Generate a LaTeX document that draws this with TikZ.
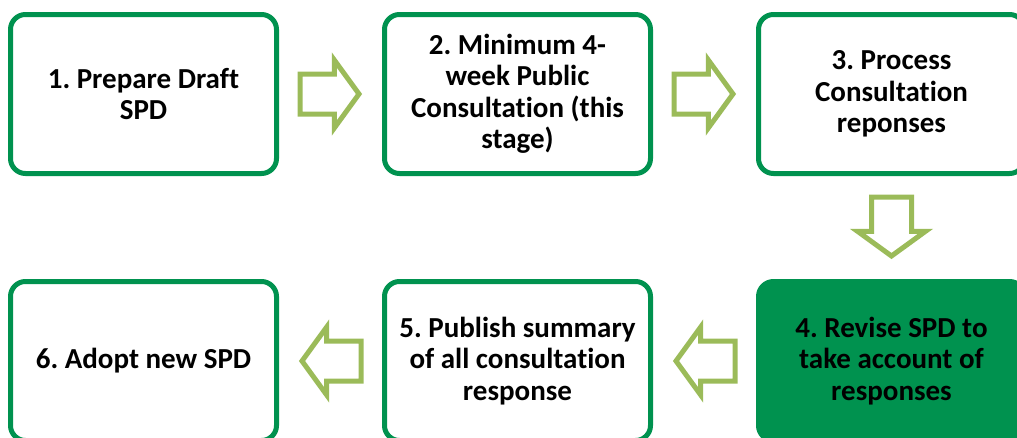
\documentclass[tikz,border=0pt]{standalone}
\usepackage{fontspec}
\setmainfont{Carlito}[Ligatures=NoCommon]
\frenchspacing
\usepackage{tikz}
\usetikzlibrary{positioning}
\usetikzlibrary{shapes.arrows}
\definecolor{spdgreen}{RGB}{0,146,79}
\definecolor{arrowgreen}{RGB}{155,187,89}
\tikzset{
	stage/.style={draw=spdgreen, line width=5pt, rounded corners=15pt,
		minimum width=266pt, minimum height=159pt, align=center,
		font=\fontsize{29}{31.5}\selectfont\bfseries},
	current/.style={stage, fill=spdgreen},
	flowarrow/.style={single arrow, draw=arrowgreen, line width=5pt,
		inner sep=17.5pt, minimum height=59pt,
		single arrow head extend=14pt, single arrow tip angle=108},
}

\begin{document}
\begin{tikzpicture}[x=1pt, y=1pt, node distance=103pt]
	\useasboundingbox (0,0) rectangle (1017,-437);
	\node[stage] (s1) at (143.5,-94) {1. Prepare Draft\\SPD};
	\node[stage, right=of s1] (s2) {2. Minimum 4-\\week Public\\Consultation (this\\stage)};
	\node[stage, right=of s2] (s3) {3. Process\\Consultation\\reponses};
	\node[current, below=of s3] (s4) {4. Revise SPD to\\take account of\\responses};
	\node[stage, left=of s4] (s5) {5. Publish summary\\of all consultation\\response};
	\node[stage, left=of s5] (s6) {6. Adopt new SPD};
	% block arrows between the stages
	\node[flowarrow, right=18.5pt of s1, anchor=tail] (a12) {};
	\node[flowarrow, right=18.5pt of s2, anchor=tail] (a23) {};
	\node[flowarrow, rotate=-90, below=18.5pt of s3, anchor=tail] (a34) {};
	\node[flowarrow, rotate=180, left=18.5pt of s4, anchor=tail] (a45) {};
	\node[flowarrow, rotate=180, left=18.5pt of s5, anchor=tail] (a56) {};
\end{tikzpicture}
\end{document}
